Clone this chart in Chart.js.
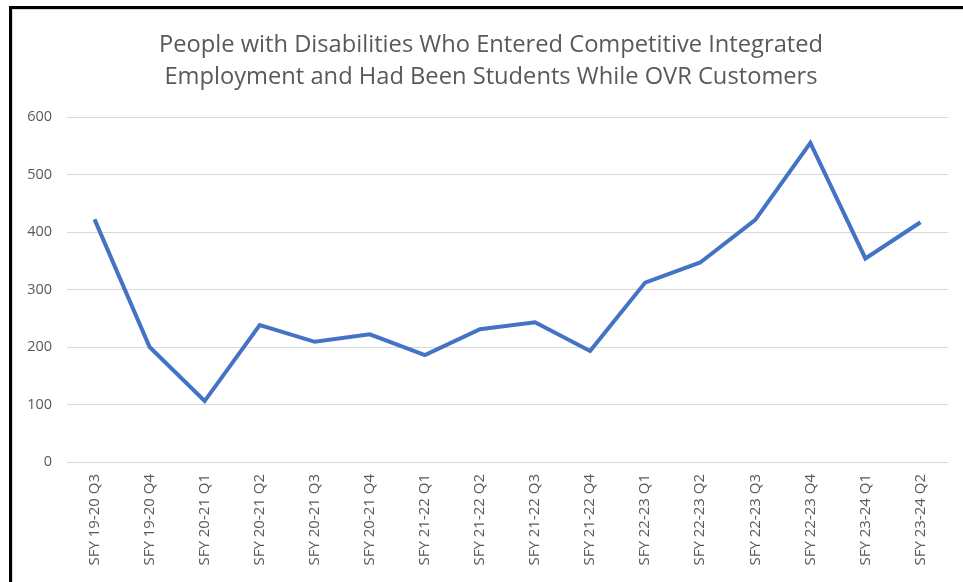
<!DOCTYPE html>
<html>
<head>
<meta charset="utf-8">
<script src="https://cdn.jsdelivr.net/npm/chart.js@4"></script>
<style>
    body { margin: 0; background: #fff; }
    #wrap { position: relative; width: 963px; height: 582px; overflow: hidden; }
    #frame { position: absolute; left: 9px; top: 6px; width: 980px; height: 600px;
             border-left: 3px solid #000; border-top: 3px solid #000; pointer-events: none; }
    #inner { position: absolute; left: 12px; top: 9px; width: 980px; height: 600px;
             border-left: 1px solid #d9d9d9; border-top: 1px solid #d9d9d9; pointer-events: none; }
</style>
</head>
<body>
<div id="wrap">
    <canvas id="chart" width="963" height="582"></canvas>
    <div id="inner"></div>
    <div id="frame"></div>
</div>
<script>
var quarters = ['SFY 19-20 Q3', 'SFY 19-20 Q4', 'SFY 20-21 Q1', 'SFY 20-21 Q2', 'SFY 20-21 Q3', 'SFY 20-21 Q4',
    'SFY 21-22 Q1', 'SFY 21-22 Q2', 'SFY 21-22 Q3', 'SFY 21-22 Q4', 'SFY 22-23 Q1', 'SFY 22-23 Q2',
    'SFY 22-23 Q3', 'SFY 22-23 Q4', 'SFY 23-24 Q1', 'SFY 23-24 Q2'];
var students = [422, 200, 106, 238, 209, 222, 186, 231, 243, 193, 312, 347, 421, 555, 354, 417];
var yTicks = [0, 100, 200, 300, 400, 500, 600];
var titleLines = ['People with Disabilities Who Entered Competitive Integrated',
    'Employment and Had Been Students While OVR Customers'];

var grey = '#595959';
var fontName = '"Open Sans", sans-serif';

// title is drawn by hand so it can sit a bit right of the canvas centre, like the original
var titlePlugin = {
    id: 'offsetTitle',
    afterDraw: function (chart) {
        var c = chart.ctx;
        c.save();
        c.font = '23.7px ' + fontName;
        c.fillStyle = grey;
        c.textAlign = 'center';
        c.textBaseline = 'middle';
        titleLines.forEach(function (line, i) {
            c.fillText(line, 491, 45 + i * 32);
        });
        c.restore();
    }
};

const ctx = document.getElementById('chart');

new Chart(ctx, {
    type: 'line',
    data: {
        labels: quarters,
        datasets: [{
            data: students,
            borderColor: '#4472C4',
            borderWidth: 4,
            pointRadius: 0,
            tension: 0,
            fill: false
        }]
    },
    plugins: [titlePlugin],
    options: {
        responsive: false,
        animation: false,
        layout: {
            padding: { left: 12, right: 15, top: 117, bottom: 0 }
        },
        plugins: {
            legend: { display: false },
            tooltip: { enabled: false },
            title: { display: false }
        },
        scales: {
            x: {
                offset: true,
                grid: { display: false, drawTicks: false },
                border: { display: false },
                ticks: {
                    color: grey,
                    font: { family: fontName, size: 15 },
                    minRotation: 90,
                    maxRotation: 90,
                    padding: 12,
                    autoSkip: false
                },
                afterFit: function (scale) { scale.height = 120; }
            },
            y: {
                min: 0,
                max: 600,
                afterBuildTicks: function (scale) {
                    scale.ticks = yTicks.map(function (v) { return { value: v }; });
                },
                grid: { color: '#d9d9d9', lineWidth: 1, drawTicks: false },
                border: { display: false },
                ticks: {
                    color: grey,
                    font: { family: fontName, size: 14.5 },
                    padding: 15
                },
                afterFit: function (scale) { scale.width = 55; }
            }
        }
    }
});
</script>
</body>
</html>
